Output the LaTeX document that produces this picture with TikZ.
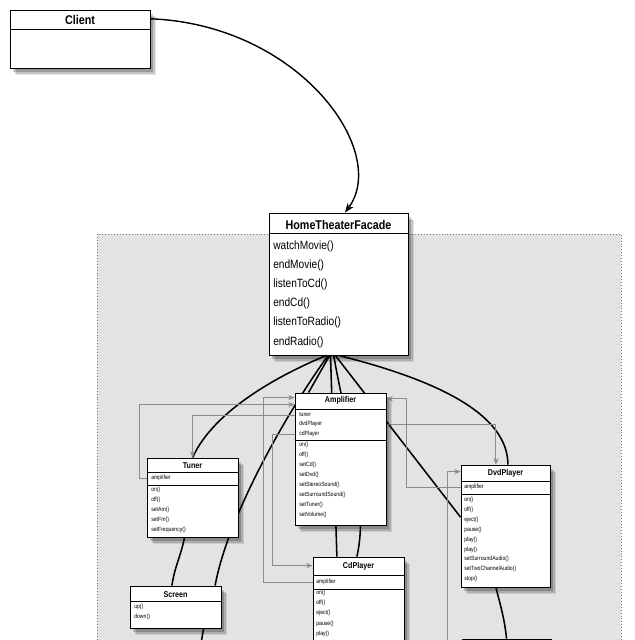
\documentclass[tikz,border=0pt]{standalone}
\usepackage{fontspec}
\setmainfont{Liberation Sans}[FakeStretch=0.85]
\usetikzlibrary{arrows.meta, positioning, fit, shadows}

\definecolor{regiongray}{RGB}{227,227,229}
\definecolor{refgray}{RGB}{140,140,140}
\definecolor{dotgray}{RGB}{120,120,120}

\pgfdeclarelayer{background}
\pgfdeclarelayer{links}
\pgfsetlayers{background,links,main}

\newcommand{\umlbig}{\fontsize{9}{10}\selectfont}
\newcommand{\umlmid}{\fontsize{8.5}{10}\selectfont}
\newcommand{\umlsmall}{\fontsize{6}{7}\selectfont}
\newcommand{\umltiny}{\fontsize{4.3}{5}\selectfont}

\begin{document}
\begin{tikzpicture}[
    x=0.25mm, y=-0.25mm,
    box/.style={draw, fill=white, line width=0.6pt, inner sep=0pt,
        drop shadow={shadow xshift=1.6mm, shadow yshift=-1.8mm, opacity=0.1, fill=black},
        drop shadow={shadow xshift=1.2mm, shadow yshift=-1.4mm, opacity=0.15, fill=black},
        drop shadow={shadow xshift=0.8mm, shadow yshift=-1mm, opacity=0.2, fill=black}},
    bigtitle/.style={font=\umlbig\bfseries},
    bigrow/.style={font=\umlmid, anchor=west, inner sep=0pt},
    title/.style={font=\umlsmall\bfseries},
    row/.style={font=\umltiny, anchor=west, inner sep=0pt},
    sep/.style={line width=0.6pt},
    link/.style={line width=1.1pt},
    ref/.style={draw=refgray, line width=0.6pt, -{Stealth[length=1.6mm, width=1.3mm]}}
]
    \useasboundingbox (0,0) rectangle (634,640);

    % subsystem area
    \begin{pgfonlayer}{background}
        \fill[regiongray] (97,234) rectangle (621,660);
        \draw[dotgray, line width=0.6pt, dash pattern=on 0.5pt off 1.6pt]
            (97,660) -- (97,234) -- (621,234) -- (621,660);
    \end{pgfonlayer}

    % client
    \node[box, fit={(10,10) (150,68)}] (client) {};
    \draw[sep] (client.west |- 0,29) -- (client.east |- 0,29);
    \node[bigtitle] at ([yshift=-2.5mm]client.north) {Client};

    % facade
    \node[box, fit={(269,213) (408,355)}] (htf) {};
    \draw[sep] (htf.west |- 0,233) -- (htf.east |- 0,233);
    \node[bigtitle] at ([yshift=-3mm]htf.north) {HomeTheaterFacade};
    \foreach \m [count=\i from 0] in {watchMovie(), endMovie(), listenToCd(), endCd(), listenToRadio(), endRadio()}
        \node[bigrow] at (273,{246+19.2*\i}) {\m};

    % amplifier
    \node[box, fit={(295,393) (386,525)}] (amp) {};
    \draw[sep] (amp.west |- 0,409) -- (amp.east |- 0,409);
    \draw[sep] (amp.west |- 0,440) -- (amp.east |- 0,440);
    \node[title] at ([yshift=-2mm]amp.north) {Amplifier};
    \node[row] (aTuner) at (299,415) {tuner};
    \node[row] (aDvd) at (299,424) {dvdPlayer};
    \node[row] (aCd) at (299,434) {cdPlayer};
    \foreach \m [count=\i from 0] in {on(), off(), setCd(), setDvd(), setStereoSound(), setSurroundSound(), setTuner(), setVolume()}
        \node[row] at (299,{445+10*\i}) {\m};

    % tuner
    \node[box, fit={(147,458) (238,537)}] (tuner) {};
    \draw[sep] (tuner.west |- 0,472) -- (tuner.east |- 0,472);
    \draw[sep] (tuner.west |- 0,485) -- (tuner.east |- 0,485);
    \node[title] at ([yshift=-2mm]tuner.north) {Tuner};
    \node[row] (tAmp) at (151,478) {amplifier};
    \foreach \m [count=\i from 0] in {on(), off(), setAm(), setFm(), setFrequency()}
        \node[row] at (151,{490+10*\i}) {\m};

    % dvd player
    \node[box, fit={(461,465) (550,587)}] (dvd) {};
    \draw[sep] (dvd.west |- 0,481) -- (dvd.east |- 0,481);
    \draw[sep] (dvd.west |- 0,494) -- (dvd.east |- 0,494);
    \node[title] at ([yshift=-2.25mm]dvd.north) {DvdPlayer};
    \node[row] (dAmp) at (464,487) {amplifier};
    \foreach \m [count=\i from 0] in {on(), off(), eject(), pause(), play(), play(), setSurroundAudio(), setTwoChannelAudio(), stop()}
        \node[row] at (464,{500+9.9*\i}) {\m};

    % cd player
    \node[box, fit={(313,557) (404,700)}] (cd) {};
    \draw[sep] (cd.west |- 0,575) -- (cd.east |- 0,575);
    \draw[sep] (cd.west |- 0,589) -- (cd.east |- 0,589);
    \node[title] at ([yshift=-2.5mm]cd.north) {CdPlayer};
    \node[row] (cAmp) at (316,582) {amplifier};
    \foreach \m [count=\i from 0] in {on(), off(), eject(), pause(), play()}
        \node[row] at (316,{593+10.2*\i}) {\m};

    % screen
    \node[box, fit={(130,586) (221,628)}] (screen) {};
    \draw[sep] (screen.west |- 0,601) -- (screen.east |- 0,601);
    \node[title] at ([yshift=-2.25mm]screen.north) {Screen};
    \node[row] at (134,607) {up()};
    \node[row] at (134,617) {down()};

    % box cut by the lower edge
    \node[box, fit={(462,639) (551,700)}] (proj) {};
    \coordinate (offbottom) at (200,650);

    \begin{pgfonlayer}{links}
        \draw[link, line width=1pt, -{Stealth[length=2.4mm, width=1.8mm]}]
            ([yshift=-2.3mm]client.north east) .. controls +(150,6) and +(45,-60) .. ([xshift=1.6mm]htf.north);

        \draw[link] ([xshift=-3mm]htf.south) .. controls +(-46,19) and +(22,-48) .. (tuner.north);
        \draw[link] ([xshift=-2.6mm]htf.south) .. controls +(-46,64) and +(12,-66) .. ([xshift=9.9mm]screen.north);
        \draw[link] ([xshift=-2mm]tuner.south) .. controls +(-4,20) and +(3,-20) .. ([xshift=-0.9mm]screen.north);
        \draw[link] ([xshift=7mm]screen.south) -- (offbottom);
        \draw[link] ([xshift=-2.2mm]htf.south) -- ([xshift=-8mm]amp.north);
        \draw[link] ([xshift=-2mm]htf.south) -- ([xshift=-5.4mm]cd.north);
        \draw[link] ([xshift=-1.2mm]htf.south) .. controls +(11,65) and +(13,-57) .. ([xshift=-0.4mm]cd.north);
        \draw[link] ([xshift=-0.8mm]htf.south) -- ([yshift=2.2mm]dvd.west);
        \draw[link] (htf.south) .. controls +(100,25) and +(0,-50) .. ([xshift=0.6mm]dvd.north);
        \draw[link] ([xshift=-2.4mm]dvd.south) .. controls +(5,20) and +(-2,-20) .. (proj.north);

        \draw[ref] (tuner.west |- tAmp) -- ++(-7,0) |- ([yshift=-3mm]amp.north west);
        \draw[ref] (amp.west |- aTuner) -| (tuner.north);
        \draw[ref] (cd.west |- cAmp) -- ++(-49,0) |- ([yshift=-1.25mm]amp.north west);
        \draw[ref] (amp.west |- aCd) -- ++(-22,0) |- ([yshift=-2.25mm]cd.north west);
        \draw[ref] (dvd.west |- dAmp) -- ++(-54,0) |- ([yshift=-1.5mm]amp.north east);
        \draw[ref] (amp.east |- aDvd) -| ([xshift=-2.4mm]dvd.north);
        \draw[ref] ([yshift=-5mm]proj.north west) -- ++(-14,0) |- ([yshift=-1.75mm]dvd.north west);
    \end{pgfonlayer}
\end{tikzpicture}
\end{document}
